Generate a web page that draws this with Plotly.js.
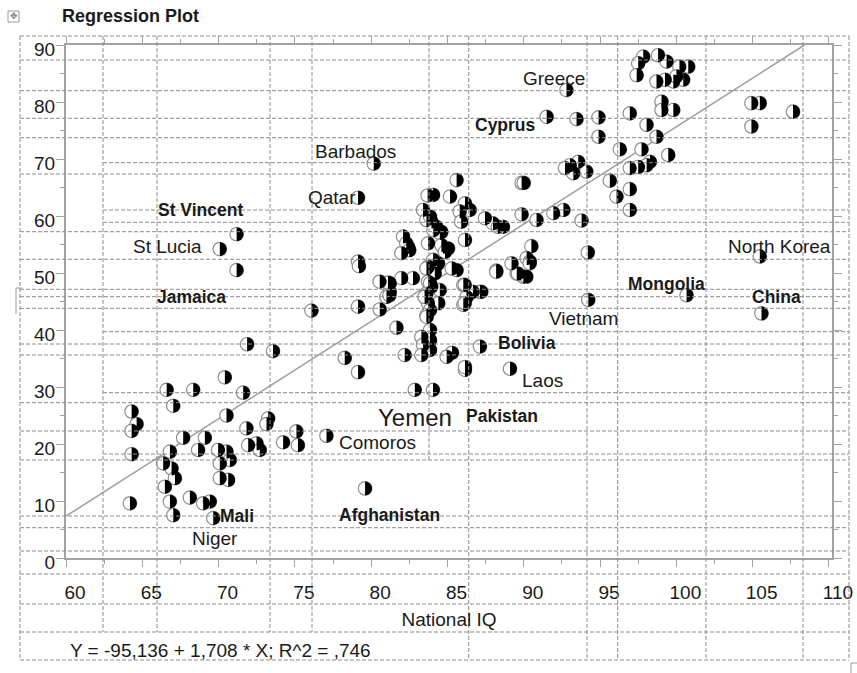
<!DOCTYPE html>
<html><head><meta charset="utf-8">
<script src="https://cdn.plot.ly/plotly-3.0.1.min.js"></script>
<style>html,body{margin:0;padding:0;background:#fff;}#chart{width:857px;height:673px;}</style>
</head><body><div id="chart"></div>
<script>
// ---------------- data ----------------
const nationalIQ = [
97.83,98.8,97.5,99.36,100.2,100.78,97.4,98.7,99.25,99.8,100.45,100.0,92.8,99.03,99.03,99.8,104.92,105.47,107.65,104.92,
91.5,93.46,94.9,96.95,98.05,94.9,98.7,96.3,97.72,99.47,98.27,93.03,93.57,92.7,94.1,93.25,96.95,97.5,98.05,89.86,
90.0,85.6,95.64,96.95,96.08,96.95,84.06,85.17,86.15,86.46,85.8,85.9,83.4,83.95,84.27,84.6,83.62,83.86,87.46,87.98,
88.3,88.64,89.86,90.84,91.94,92.6,93.79,86.15,84.08,84.5,84.7,90.5,94.2,90.19,90.4,85.6,88.2,89.2,89.97,89.54,
90.39,84.3,86.04,87.13,86.26,86.04,86.67,94.23,100.67,105.47,105.58,87.13,85.3,86.15,86.15,89.1,84.05,82.86,82.09,82.42,
81.98,82.3,82.5,83.73,84.6,85.04,84.06,84.39,83.73,84.84,85.28,88.2,89.62,90.17,80.56,81.22,81.98,82.74,83.73,84.17,
83.95,83.62,81.22,81.0,86.13,87.22,86.13,83.73,83.62,83.86,84.5,84.4,83.86,83.64,83.86,83.86,83.86,83.62,83.5,83.29,
83.4,82.2,83.29,84.95,80.17,79.14,83.7,71.18,70.08,71.18,79.14,79.2,81.1,81.2,79.14,80.56,76.09,81.66,71.87,73.57,
78.27,79.14,70.41,66.6,68.34,71.61,67.03,64.3,64.63,64.3,64.3,64.19,70.52,73.25,73.14,71.83,67.68,69.1,68.66,69.97,
70.52,70.74,70.08,66.81,66.37,66.92,67.14,66.48,66.81,67.03,68.12,68.99,69.43,69.65,70.08,70.63,71.94,72.49,72.7,74.23,
75.1,75.2,77.07,79.6
];
const outcome = [
87.95,88.2,86.8,87.1,86.2,86.2,84.7,83.6,83.9,83.6,83.9,84.5,82.1,80.05,78.6,78.6,79.8,79.8,78.3,75.7,
77.4,77.0,77.3,78.0,76.0,73.9,73.9,71.7,71.7,70.7,69.5,68.9,69.5,68.4,67.8,67.5,68.4,68.6,68.9,65.8,
65.8,66.3,66.2,64.7,63.4,61.05,63.7,63.4,62.2,61.05,60.8,59.0,61.05,59.0,58.1,57.2,59.3,59.9,59.6,58.7,
58.1,58.1,60.3,59.3,60.5,61.05,59.2,55.8,57.5,57.0,54.6,54.7,53.6,52.6,52.0,50.5,50.4,51.7,49.35,49.9,
51.7,51.4,47.9,46.7,45.8,44.4,46.7,45.3,46.1,52.9,42.9,37.1,36.0,33.0,33.5,33.2,29.5,29.5,56.4,54.6,
53.5,55.2,54.0,55.2,54.9,54.3,52.3,51.7,51.1,53.7,50.8,50.2,49.9,49.35,48.5,48.2,49.1,49.1,48.5,49.9,
47.6,46.4,46.7,45.8,47.9,46.7,44.7,44.7,42.6,48.2,47.0,44.7,43.5,42.3,40.0,38.2,36.5,50.8,45.8,38.8,
37.4,35.6,35.6,35.3,69.2,63.2,63.6,56.8,54.2,50.5,52.0,51.2,48.3,46.1,44.1,43.6,43.4,40.4,37.5,36.3,
35.1,32.6,31.7,29.5,29.5,29.0,26.7,25.7,23.5,22.3,18.2,9.6,25.0,24.5,23.5,22.75,21.1,21.1,18.95,18.95,
18.65,17.2,16.6,18.65,16.6,15.7,14.0,12.5,9.9,7.5,10.6,9.6,9.9,7.0,14.0,13.7,19.8,20.1,18.95,20.3,
22.2,19.8,21.45,12.2
];
const countryLabels = ['Greece','Cyprus','Barbados','Qatar','St Vincent','St Lucia','Jamaica','North Korea','Mongolia','China',
  'Vietnam','Bolivia','Laos','Pakistan','Yemen','Comoros','Afghanistan','Mali','Niger'];
const intercept = -95.136, slope = 1.708, rSquared = 0.746;
const xTickVals = [60,65,70,75,80,85,90,95,100,105,110];
const yTickVals = [0,10,20,30,40,50,60,70,80,90];

// ---------------- layout helpers ----------------
const W = 857, H = 673, PL = 66, PR = 832, PT = 45, PB = 558;
const px = v => (v - PL) / (PR - PL);
const py = v => (PB - v) / (PB - PT);
const FONT = 'Liberation Sans, Arial, sans-serif';

// label placement (data units), bold flag, font size
const labelPlace = {
  'Greece':[91.96,84.2,0,19],'Cyprus':[88.8,76.0,1,17.5],'Barbados':[79.0,71.4,0,19],'Qatar':[77.4,63.3,0,19],
  'St Vincent':[68.84,61.05,1,17.5],'St Lucia':[66.68,54.6,0,19],'Jamaica':[68.25,45.8,1,17.5],
  'North Korea':[106.76,54.6,0,19],'Mongolia':[99.36,48.1,1,17.5],'China':[106.56,45.8,1,17.5],
  'Vietnam':[93.92,42.1,0,19],'Bolivia':[90.19,37.7,1,17.5],'Laos':[91.24,31.2,0,19],'Pakistan':[88.55,24.9,1,17.5],
  'Yemen':[82.85,24.6,0,24],'Comoros':[80.43,20.35,0,19],'Afghanistan':[81.2,7.5,1,17.5],'Mali':[71.2,7.4,1,17.5],
  'Niger':[69.76,3.5,0,19]
};

// Word-table dashed borders (pixel positions)
const hLines = [[36,20,849],[60,20,849],[90.7,20,849],[118.3,20,849],[137.7,20,849],[162.7,103,849],[174,20,849],
 [210,103,849],[222.3,103,849],[231.7,20,849],[259.3,20,849],[289.3,20,849],[296.7,20,849],[308.3,20,849],
 [331.7,103,849],[344,20,849],[355,20,849],[392.7,103,849],[402.7,20,849],[431,20,849],[454,103,849],[460,20,849],
 [516,20,849],[527.7,20,849],[551,20,849],[574,20,849],[604,20,849],[632,20,849],[660,20,849]];
const vLines = [[20,36,660],[103,36,632],[157,36,632],[270,36,632],[312,36,632],[429,36,460],[468.7,36,660],
 [587,36,660],[617.7,36,660],[706,36,660],[803,36,660],[849,36,660]];

const shapes = [];

// right-half black fill of each marker, anchored at the data point (pixel-sized)
const R = 6.9, K = R * 0.5523;
const halfDisc = `M0,${-R} C${K},${-R} ${R},${-K} ${R},0 C${R},${K} ${K},${R} 0,${R} Z`;
nationalIQ.forEach((x, i) => shapes.push({type:'path', xref:'x', yref:'y', xsizemode:'pixel', ysizemode:'pixel',
  xanchor:x, yanchor:outcome[i], path:halfDisc, fillcolor:'#000000', line:{width:0}, layer:'above'}));

// table borders drawn on top, as in the reference
const dash = {color:'#8c8c8c', width:1, dash:'4px,2px'};
hLines.forEach(([y,x0,x1]) => shapes.push({type:'line', xref:'paper', yref:'paper', x0:px(x0), x1:px(x1), y0:py(y), y1:py(y), line:dash, layer:'above'}));
vLines.forEach(([x,y0,y1]) => shapes.push({type:'line', xref:'paper', yref:'paper', x0:px(x), x1:px(x), y0:py(y0), y1:py(y1), line:dash, layer:'above'}));
// small table handles
const handle = {color:'#9a9a9a', width:1};
shapes.push({type:'rect', xref:'paper', yref:'paper', x0:px(8), x1:px(19), y0:py(11), y1:py(22), line:handle});
shapes.push({type:'line', xref:'paper', yref:'paper', x0:px(16), x1:px(16), y0:py(288), y1:py(314), line:handle});
shapes.push({type:'line', xref:'paper', yref:'paper', x0:px(16), x1:px(22), y0:py(288), y1:py(288), line:handle});
shapes.push({type:'line', xref:'paper', yref:'paper', x0:px(851), x1:px(857), y0:py(663), y1:py(663), line:handle});
shapes.push({type:'line', xref:'paper', yref:'paper', x0:px(851), x1:px(851), y0:py(663), y1:py(673), line:handle});

const annotations = countryLabels.map(n => {
  const p = labelPlace[n];
  return {x:p[0], y:p[1], xref:'x', yref:'y', text: p[2] ? '<b>'+n+'</b>' : n, showarrow:false,
    xanchor:'center', yanchor:'middle', font:{family:FONT, size:p[3], color:'#1a1a1a'}};
});
const fmt = v => String(v).replace('.', ',').replace(/^0,/, ',');
annotations.push({xref:'paper', yref:'paper', x:px(68), y:py(650), xanchor:'left', yanchor:'middle', showarrow:false,
  text:'Y = ' + fmt(intercept) + ' + ' + fmt(slope) + ' * X; R^2 = ' + fmt(rSquared),
  font:{family:FONT, size:19, color:'#1a1a1a'}});
annotations.push({xref:'paper', yref:'paper', x:px(13.5), y:py(16.5), xanchor:'center', yanchor:'middle', showarrow:false,
  text:'✥', font:{family:'DejaVu Sans', size:9, color:'#777'}});

const xEnd = (90 - intercept) / slope;
const traces = [
  {x:[60, xEnd], y:[intercept + slope*60, 90], mode:'lines', line:{color:'#9e9e9e', width:1.5}, hoverinfo:'skip'},
  {x:nationalIQ, y:outcome, mode:'markers', marker:{symbol:'circle', size:13.5, color:'#ffffff', line:{color:'#8f8f8f', width:1.2}}, hoverinfo:'skip'}
];

const axisCommon = {showline:true, linecolor:'#a3a3a3', linewidth:2, mirror:'ticks', ticks:'outside',
  tickcolor:'#a3a3a3', tickwidth:1, showgrid:false, zeroline:false, automargin:false,
  tickfont:{family:FONT, size:19, color:'#1a1a1a'}};

const layout = {
  width:W, height:H, paper_bgcolor:'#ffffff', plot_bgcolor:'rgba(0,0,0,0)', showlegend:false,
  margin:{l:PL, r:W-PR, t:PT, b:H-PB, pad:0},
  font:{family:FONT, color:'#1a1a1a'},
  title:{text:'<b>Regression Plot</b>', font:{family:FONT, size:18, color:'#1a1a1a'}, xref:'container', yref:'container',
    x:62/W, xanchor:'left', y:1-16/H, yanchor:'middle'},
  xaxis:Object.assign({}, axisCommon, {range:[60,110.2], tickvals:xTickVals, ticklen:7,
    minor:{dtick:2.5, tick0:60, ticks:'outside', ticklen:4, tickcolor:'#a3a3a3'},
    ticklabelshift:9, ticklabelstandoff:9,
    title:{text:'National IQ', font:{family:FONT, size:19, color:'#1a1a1a'}, standoff:11}}),
  yaxis:Object.assign({}, axisCommon, {range:[0,90], tickvals:yTickVals, ticklen:8,
    minor:{dtick:5, tick0:0, ticks:'outside', ticklen:4, tickcolor:'#a3a3a3'}, ticklabelshift:4, ticklabelstandoff:-3}),
  shapes:shapes, annotations:annotations
};

Plotly.newPlot('chart', traces, layout, {displayModeBar:false, staticPlot:true});
</script></body></html>
